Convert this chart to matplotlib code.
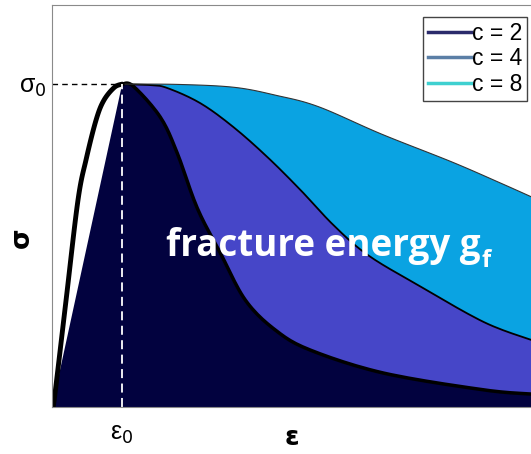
import numpy as np
import matplotlib.pyplot as plt
from matplotlib.lines import Line2D

# curva de carga (pre-pico), normalizada: eps/eps0, sigma/sigma0
eps_rise = [0, 0.03, 0.2, 0.37, 0.49, 0.63, 0.74, 0.89, 1.0]
sig_rise = [0, 0.02, 0.33, 0.64, 0.77, 0.89, 0.95, 0.99, 1.0]

# curvas de ablandamiento para c = 2, 4, 8
eps_c2 = [1.0, 1.157, 1.543, 1.786, 2.071, 2.4, 2.757, 3.186, 3.686, 4.729, 6.157, 6.843]
sig_c2 = [1.0, 0.994, 0.898, 0.786, 0.616, 0.477, 0.331, 0.238, 0.176, 0.105, 0.053, 0.040]

eps_c4 = [1.0, 1.4, 1.643, 2.114, 2.586, 3.071, 3.543, 4.014, 4.5, 5.214, 6.157, 6.843]
sig_c4 = [1.0, 0.997, 0.988, 0.941, 0.867, 0.774, 0.672, 0.563, 0.471, 0.378, 0.263, 0.207]

eps_c8 = [1.0, 1.8, 2.6, 3.2, 3.8, 4.7, 5.7, 6.4, 6.843]
sig_c8 = [1.0, 0.999, 0.990, 0.965, 0.930, 0.845, 0.759, 0.693, 0.650]

labels = ["c = 2", "c = 4", "c = 8"]
leg_colors = ["#2b2b6b", "#5b7fa6", "#3fd0d0"]
fill_colors = ["#02023f", "#4646c8", "#0aa3e2"]

xmax, ymax = 6.843, 1.245


def suavizar(x, y, n=12):
    # spline Catmull-Rom solo para dibujar la curva sin quiebres
    p = np.column_stack([x, y])
    p = np.vstack([p[0], p, p[-1]])
    out = []
    for i in range(1, len(p) - 2):
        p0, p1, p2, p3 = p[i - 1], p[i], p[i + 1], p[i + 2]
        for t in np.linspace(0, 1, n, endpoint=False):
            t2, t3 = t * t, t * t * t
            out.append(0.5 * (2 * p1 + (-p0 + p2) * t
                              + (2 * p0 - 5 * p1 + 4 * p2 - p3) * t2
                              + (-p0 + 3 * p1 - 3 * p2 + p3) * t3))
    out.append(p[-2])
    out = np.array(out)
    return list(out[:, 0]), list(out[:, 1])


rx, ry = suavizar(eps_rise, sig_rise)
x2, y2 = suavizar(eps_c2, sig_c2)
x4, y4 = suavizar(eps_c4, sig_c4)
x8, y8 = suavizar(eps_c8, sig_c8)

fig = plt.figure(figsize=(5.31, 4.54), dpi=100)
ax = fig.add_axes([52 / 531, 47 / 454, 480 / 531, 402 / 454])

# regiones de energia de fractura
ax.fill([0] + x2 + [xmax], [0] + y2 + [0], color=fill_colors[0], lw=0)
ax.fill(x4 + x2[::-1], y4 + y2[::-1], color=fill_colors[1], lw=0)
ax.fill(x8 + x4[::-1], y8 + y4[::-1], color=fill_colors[2], lw=0)

ax.plot(x2, y2, color="black", lw=2.5)
ax.plot(x4, y4, color="black", lw=1.3)
ax.plot(x8, y8, color="#333333", lw=0.8)
ax.plot(rx, ry, color="black", lw=3.5, solid_capstyle="round")

# lineas de referencia en el pico
ax.plot([0, 1], [1, 1], color="black", lw=1, ls=(0, (4, 3)))
ax.plot([1, 1], [0, 1], color="white", lw=1.3, ls=(0, (5, 3)))

t = ax.text(1.62, 0.5, "fracture energy g", color="white", fontsize=26.5,
            fontweight="bold", family="Open Sans", va="center")
ax.annotate("f", xy=(1, 0.1), xycoords=t, color="white", fontsize=17,
            fontweight="bold", family="Open Sans", va="center",
            xytext=(1, 0), textcoords="offset points")

ax.set_xlim(0, xmax)
ax.set_ylim(0, ymax)
ax.set_xticks([1])
ax.set_xticklabels([r"ε$_0$"], fontsize=18, family="Liberation Sans")
ax.set_yticks([1])
ax.set_yticklabels([r"σ$_0$"], fontsize=18, family="Liberation Sans")
ax.tick_params(axis="x", length=0, pad=11)
ax.tick_params(axis="y", length=0, pad=4)
ax.set_xlabel("ε", fontsize=19, fontweight="bold")
ax.set_ylabel("σ", fontsize=19, fontweight="bold")
ax.xaxis.set_label_coords(0.5, -0.045)
ax.yaxis.set_label_coords(-0.035, 0.42)

for s in ["left", "bottom", "top"]:
    ax.spines[s].set_color("#8a8a8a")
ax.spines["right"].set_visible(False)

handles = [Line2D([0], [0], color=c, lw=2.5) for c in leg_colors]
ax.legend(handles, labels, loc="upper right", bbox_to_anchor=(0.99, 0.97),
          prop={"family": "Liberation Sans", "size": 16.5}, fancybox=False,
          edgecolor="#444444", framealpha=1, handlelength=1.9, handletextpad=0.05,
          labelspacing=0.12, borderpad=0.2, borderaxespad=0)

fig.savefig("out.png", dpi=100)
